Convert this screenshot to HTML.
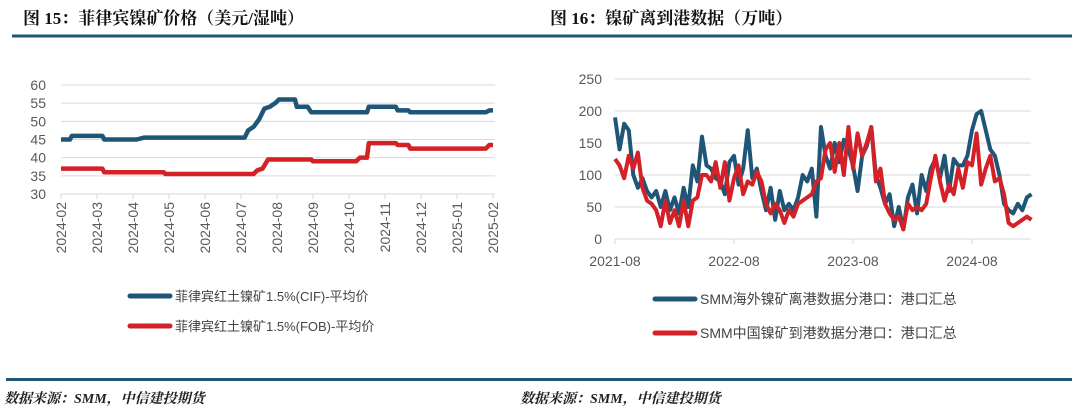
<!DOCTYPE html>
<html><head><meta charset="utf-8">
<style>
body{margin:0;background:#fff;width:1080px;height:410px;overflow:hidden;font-family:"Liberation Sans","Noto Sans CJK SC",sans-serif;}
svg{display:block}
</style></head>
<body>
<svg id="root" width="1080" height="410" xmlns="http://www.w3.org/2000/svg">
<text x="23" y="24" font-size="17" font-weight="bold" fill="#111" font-family="'Liberation Serif','Noto Serif CJK SC',serif">图 15：菲律宾镍矿价格（美元/湿吨）</text>
<text x="550" y="24" font-size="17" font-weight="bold" fill="#111" font-family="'Liberation Serif','Noto Serif CJK SC',serif">图 16：镍矿离到港数据（万吨）</text>
<rect x="12" y="34.5" width="1060" height="3" fill="#1f5577"/>
<rect x="6" y="378" width="1066" height="3" fill="#1f5577"/>
<text x="4" y="403" font-size="14" font-style="italic" font-weight="bold" fill="#222" font-family="'Liberation Serif','Noto Serif CJK SC',serif">数据来源：SMM，中信建投期货</text>
<text x="520" y="403" font-size="14" font-style="italic" font-weight="bold" fill="#222" font-family="'Liberation Serif','Noto Serif CJK SC',serif">数据来源：SMM，中信建投期货</text>
<g id="c1"></g>
<g id="c2"></g>
<g font-size="13" fill="#444">
<line x1="130" y1="296" x2="170" y2="296" stroke="#1f5577" stroke-width="5" stroke-linecap="round"/>
<text x="175" y="301">菲律宾红土镍矿1.5%(CIF)-平均价</text>
<line x1="130" y1="326" x2="170" y2="326" stroke="#d42027" stroke-width="5" stroke-linecap="round"/>
<text x="175" y="331">菲律宾红土镍矿1.5%(FOB)-平均价</text>
<line x1="655" y1="299" x2="695" y2="299" stroke="#1f5577" stroke-width="5" stroke-linecap="round"/>
<text x="700" y="304" font-size="14">SMM海外镍矿离港数据分港口：港口汇总</text>
<line x1="655" y1="333" x2="695" y2="333" stroke="#d42027" stroke-width="5" stroke-linecap="round"/>
<text x="700" y="338" font-size="14">SMM中国镍矿到港数据分港口：港口汇总</text>
</g>
</svg>
<script>
const NS="http://www.w3.org/2000/svg";
// Chart 15 data (x = months since 2024-02)
const c1MonthLabels=["2024-02","2024-03","2024-04","2024-05","2024-06","2024-07","2024-08","2024-09","2024-10","2024-11","2024-12","2025-01","2025-02"];
const c1YTicks=[30,35,40,45,50,55,60];
const cifX=[0,0.25,0.3,1.15,1.2,2.1,2.3,5.1,5.2,5.35,5.5,5.65,5.8,5.95,6.05,6.5,6.55,6.85,6.95,8.5,8.55,9.3,9.35,9.65,9.7,11.8,11.9,12];
const cifY=[45,45,46,46,45,45,45.5,45.5,47.5,48.5,50.5,53.5,54,55,56,56,54,54,52.5,52.5,54,54,53,53,52.5,52.5,53,53];
const fobX=[0,1.15,1.2,2.85,2.9,5.35,5.45,5.6,5.75,6.95,7.0,8.2,8.3,8.5,8.55,9.3,9.35,9.65,9.7,11.8,11.9,12];
const fobY=[37,37,36,36,35.5,35.5,36.5,37,39.5,39.5,39,39,40,40,44,44,43.5,43.5,42.5,42.5,43.5,43.5];
// Chart 16 data (biweekly from 2021-08)
const c2XLabels=["2021-08","2022-08","2023-08","2024-08"];
const c2YTicks=[0,50,100,150,200,250];
const exportVals=[190,140,180,170,100,80,95,75,65,75,50,75,45,65,40,80,50,115,90,160,115,110,95,90,70,120,130,85,110,170,95,110,75,45,80,30,75,45,55,45,65,100,90,110,35,175,130,110,150,120,155,140,115,75,130,145,175,100,80,55,70,20,50,15,65,85,40,100,75,110,125,95,130,75,125,115,115,130,170,195,200,170,140,130,100,55,45,40,55,45,65,70];
const importVals=[125,115,95,130,110,135,80,60,55,45,20,60,25,45,20,60,20,60,65,100,100,90,120,80,120,60,95,115,70,90,85,105,90,55,40,55,45,25,45,35,55,60,65,70,90,95,140,150,105,150,100,175,110,165,130,150,175,90,110,55,40,30,35,15,55,45,50,45,55,95,130,90,60,85,70,110,80,120,115,165,85,110,130,90,95,70,25,20,25,30,35,30];

function el(tag,attrs,parent){const e=document.createElementNS(NS,tag);for(const k in attrs)e.setAttribute(k,attrs[k]);parent.appendChild(e);return e;}
const g1=document.getElementById('c1'),g2=document.getElementById('c2');

// chart 1 axes
const x1=m=>61+m*(432/12), y1=v=>194-(v-30)*(109/30);
c1YTicks.forEach(v=>{
  if(v>30){const l=el('line',{x1:61,x2:495,y1:y1(v),y2:y1(v),stroke:'#d9d9d9','stroke-width':1},g1);
  }
  const t=el('text',{x:46,y:y1(v)+5,'font-size':14,fill:'#595959','text-anchor':'end'},g1);t.textContent=v;
  
});
const ax1=el('line',{x1:61,x2:495,y1:194,y2:194,stroke:'#d9d9d9'},g1);

c1MonthLabels.forEach((s,i)=>{
  const x=x1(i);
  const tk=el('line',{x1:x,x2:x,y1:194,y2:199,stroke:'#d9d9d9'},g1);
  
  const t=el('text',{x:0,y:0,'font-size':14,fill:'#595959','text-anchor':'end',transform:`translate(${x+5},202) rotate(-90)`},g1);
  t.textContent=s;
});
function line1(xs,ys,color,name){
  const p=el('polyline',{points:xs.map((x,i)=>x1(x)+','+y1(ys[i])).join(' '),fill:'none',stroke:color,'stroke-width':4.5,'stroke-linejoin':'round'},g1);
  
}
line1(fobX,fobY,'#d42027','fob-price-line');
line1(cifX,cifY,'#1f5577','cif-price-line');

// chart 2 axes
const x2=yr=>615+yr*119, y2=v=>239-v*0.64;
c2YTicks.forEach(v=>{
  const l=el('line',{x1:615,x2:1031,y1:y2(v),y2:y2(v),stroke:'#d9d9d9','stroke-width':1},g2);
  
  const t=el('text',{x:602,y:y2(v)+5,'font-size':14,fill:'#595959','text-anchor':'end'},g2);t.textContent=v;
  
});
c2XLabels.forEach((s,i)=>{
  const x=x2(i);
  const tk=el('line',{x1:x,x2:x,y1:239,y2:244,stroke:'#d9d9d9'},g2);
  
  const t=el('text',{x:x,y:266,'font-size':14,fill:'#595959','text-anchor':'middle'},g2);
  t.textContent=s;
});
function line2(vals,color,name){
  const p=el('polyline',{points:vals.map((v,i)=>x2(i/26)+','+y2(v)).join(' '),fill:'none',stroke:color,'stroke-width':4,'stroke-linejoin':'round'},g2);
  
}
line2(exportVals,'#1f5577','export-line');
line2(importVals,'#d42027','import-line');
</script>
</body></html>
